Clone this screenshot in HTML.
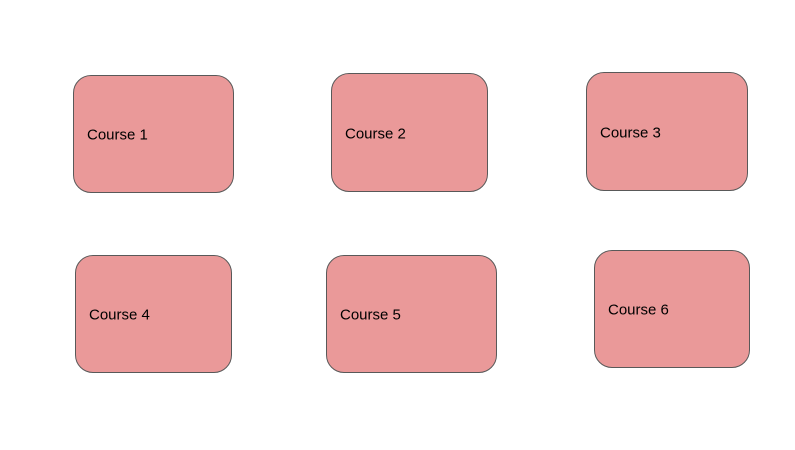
<!DOCTYPE html>
<html><head><meta charset="utf-8"><style>
html,body{margin:0;padding:0;background:#fff;}
body{width:795px;height:450px;position:relative;overflow:hidden;font-family:"Liberation Sans",Arial,sans-serif;}
.b{position:absolute;box-sizing:border-box;background:#ea9999;border:1px solid #595959;border-radius:18px;}
.b span{position:absolute;left:13px;top:50%;transform:translateY(-45%);font-size:15px;color:#000;}
</style></head><body>
<div class="b" style="left:73px;top:75px;width:161px;height:118px"><span>Course 1</span></div>
<div class="b" style="left:331px;top:73px;width:157px;height:119px"><span>Course 2</span></div>
<div class="b" style="left:586px;top:72px;width:162px;height:119px"><span>Course 3</span></div>
<div class="b" style="left:75px;top:255px;width:157px;height:118px"><span>Course 4</span></div>
<div class="b" style="left:326px;top:255px;width:171px;height:118px"><span>Course 5</span></div>
<div class="b" style="left:594px;top:250px;width:156px;height:118px"><span>Course 6</span></div>
</body></html>
